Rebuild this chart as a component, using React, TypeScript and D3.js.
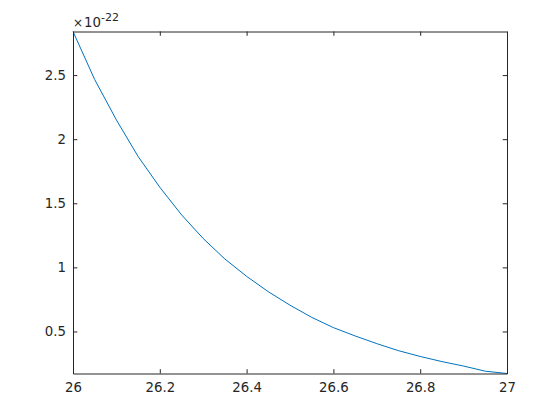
import React, { useEffect, useRef } from "react";
import * as d3 from "d3";

// x values and curve values (in units of 1e-22)
const xValues = [
  26, 26.05, 26.1, 26.15, 26.2, 26.25, 26.3, 26.35, 26.4, 26.45, 26.5,
  26.55, 26.6, 26.65, 26.7, 26.75, 26.8, 26.85, 26.9, 26.95, 27,
];
const yValues = [
  2.84, 2.465, 2.15, 1.865, 1.625, 1.41, 1.225, 1.065, 0.93, 0.81, 0.705,
  0.61, 0.53, 0.465, 0.405, 0.35, 0.305, 0.265, 0.23, 0.19, 0.172,
];
const xTicks = [26, 26.2, 26.4, 26.6, 26.8, 27];
const yTicks = [0.5, 1, 1.5, 2, 2.5];
const exponentLabel = "-22";

const App = () => {
  const ref = useRef<SVGSVGElement | null>(null);

  useEffect(() => {
    const width = 560,
      height = 420;
    const margin = { top: 31.5, right: 53, bottom: 46.5, left: 73 };
    const innerWidth = width - margin.left - margin.right;
    const innerHeight = height - margin.top - margin.bottom;
    const axisColor = "#262626";
    const tickLen = 4.3;
    const fontSize = 13.3;

    const svg = d3.select(ref.current);
    svg.selectAll("*").remove();

    const g = svg
      .append("g")
      .attr("transform", `translate(${margin.left},${margin.top})`);

    const x = d3.scaleLinear().domain([26, 27]).range([0, innerWidth]);
    const y = d3
      .scaleLinear()
      .domain([d3.min(yValues) as number, d3.max(yValues) as number])
      .range([innerHeight, 0]);

    const data = xValues.map((d, i) => ({ x: d, y: yValues[i] }));

    // curve
    const line = d3
      .line<{ x: number; y: number }>()
      .x((d) => x(d.x))
      .y((d) => y(d.y));
    g.append("path")
      .attr("d", line(data) as string)
      .attr("fill", "none")
      .attr("stroke", "#0072BD")
      .attr("stroke-width", 1);

    const styleAxis = (sel: d3.Selection<SVGGElement, unknown, null, undefined>) => {
      sel.selectAll("path").attr("stroke", axisColor);
      sel.selectAll("line").attr("stroke", axisColor);
      sel
        .selectAll("text")
        .attr("fill", axisColor)
        .attr("font-family", "DejaVu Sans")
        .attr("font-size", fontSize);
    };

    // bottom axis
    g.append("g")
      .attr("transform", `translate(0,${innerHeight})`)
      .call(
        d3
          .axisBottom(x)
          .tickValues(xTicks)
          .tickFormat((d) => d3.format("~g")(d as number))
          .tickSizeInner(-tickLen)
          .tickSizeOuter(0)
          .tickPadding(9.5)
      )
      .call(styleAxis);

    // left axis
    g.append("g")
      .call(
        d3
          .axisLeft(y)
          .tickValues(yTicks)
          .tickFormat((d) => d3.format("~g")(d as number))
          .tickSizeInner(-tickLen)
          .tickSizeOuter(0)
          .tickPadding(7)
      )
      .call(styleAxis);

    // top axis (mirror)
    g.append("g")
      .call(
        d3
          .axisTop(x)
          .tickValues(xTicks)
          .tickFormat(() => "")
          .tickSizeInner(-tickLen)
          .tickSizeOuter(0)
      )
      .call(styleAxis);

    // right axis (mirror)
    g.append("g")
      .attr("transform", `translate(${innerWidth},0)`)
      .call(
        d3
          .axisRight(y)
          .tickValues(yTicks)
          .tickFormat(() => "")
          .tickSizeInner(-tickLen)
          .tickSizeOuter(0)
      )
      .call(styleAxis);

    // exponent label
    const exp = svg
      .append("text")
      .attr("x", margin.left)
      .attr("y", 26.7)
      .attr("fill", axisColor)
      .attr("font-family", "DejaVu Sans");
    exp.append("tspan").attr("font-size", 12).text("×");
    exp.append("tspan").attr("font-size", 13.3).attr("dx", 1).text("10");
    exp
      .append("tspan")
      .attr("font-size", 11)
      .attr("dy", -6)
      .text(exponentLabel);
  }, []);

  return (
    <svg
      ref={ref}
      width={560}
      height={420}
      style={{ position: "absolute", left: 0, top: 0, background: "#fff" }}
    />
  );
};

export default App;
